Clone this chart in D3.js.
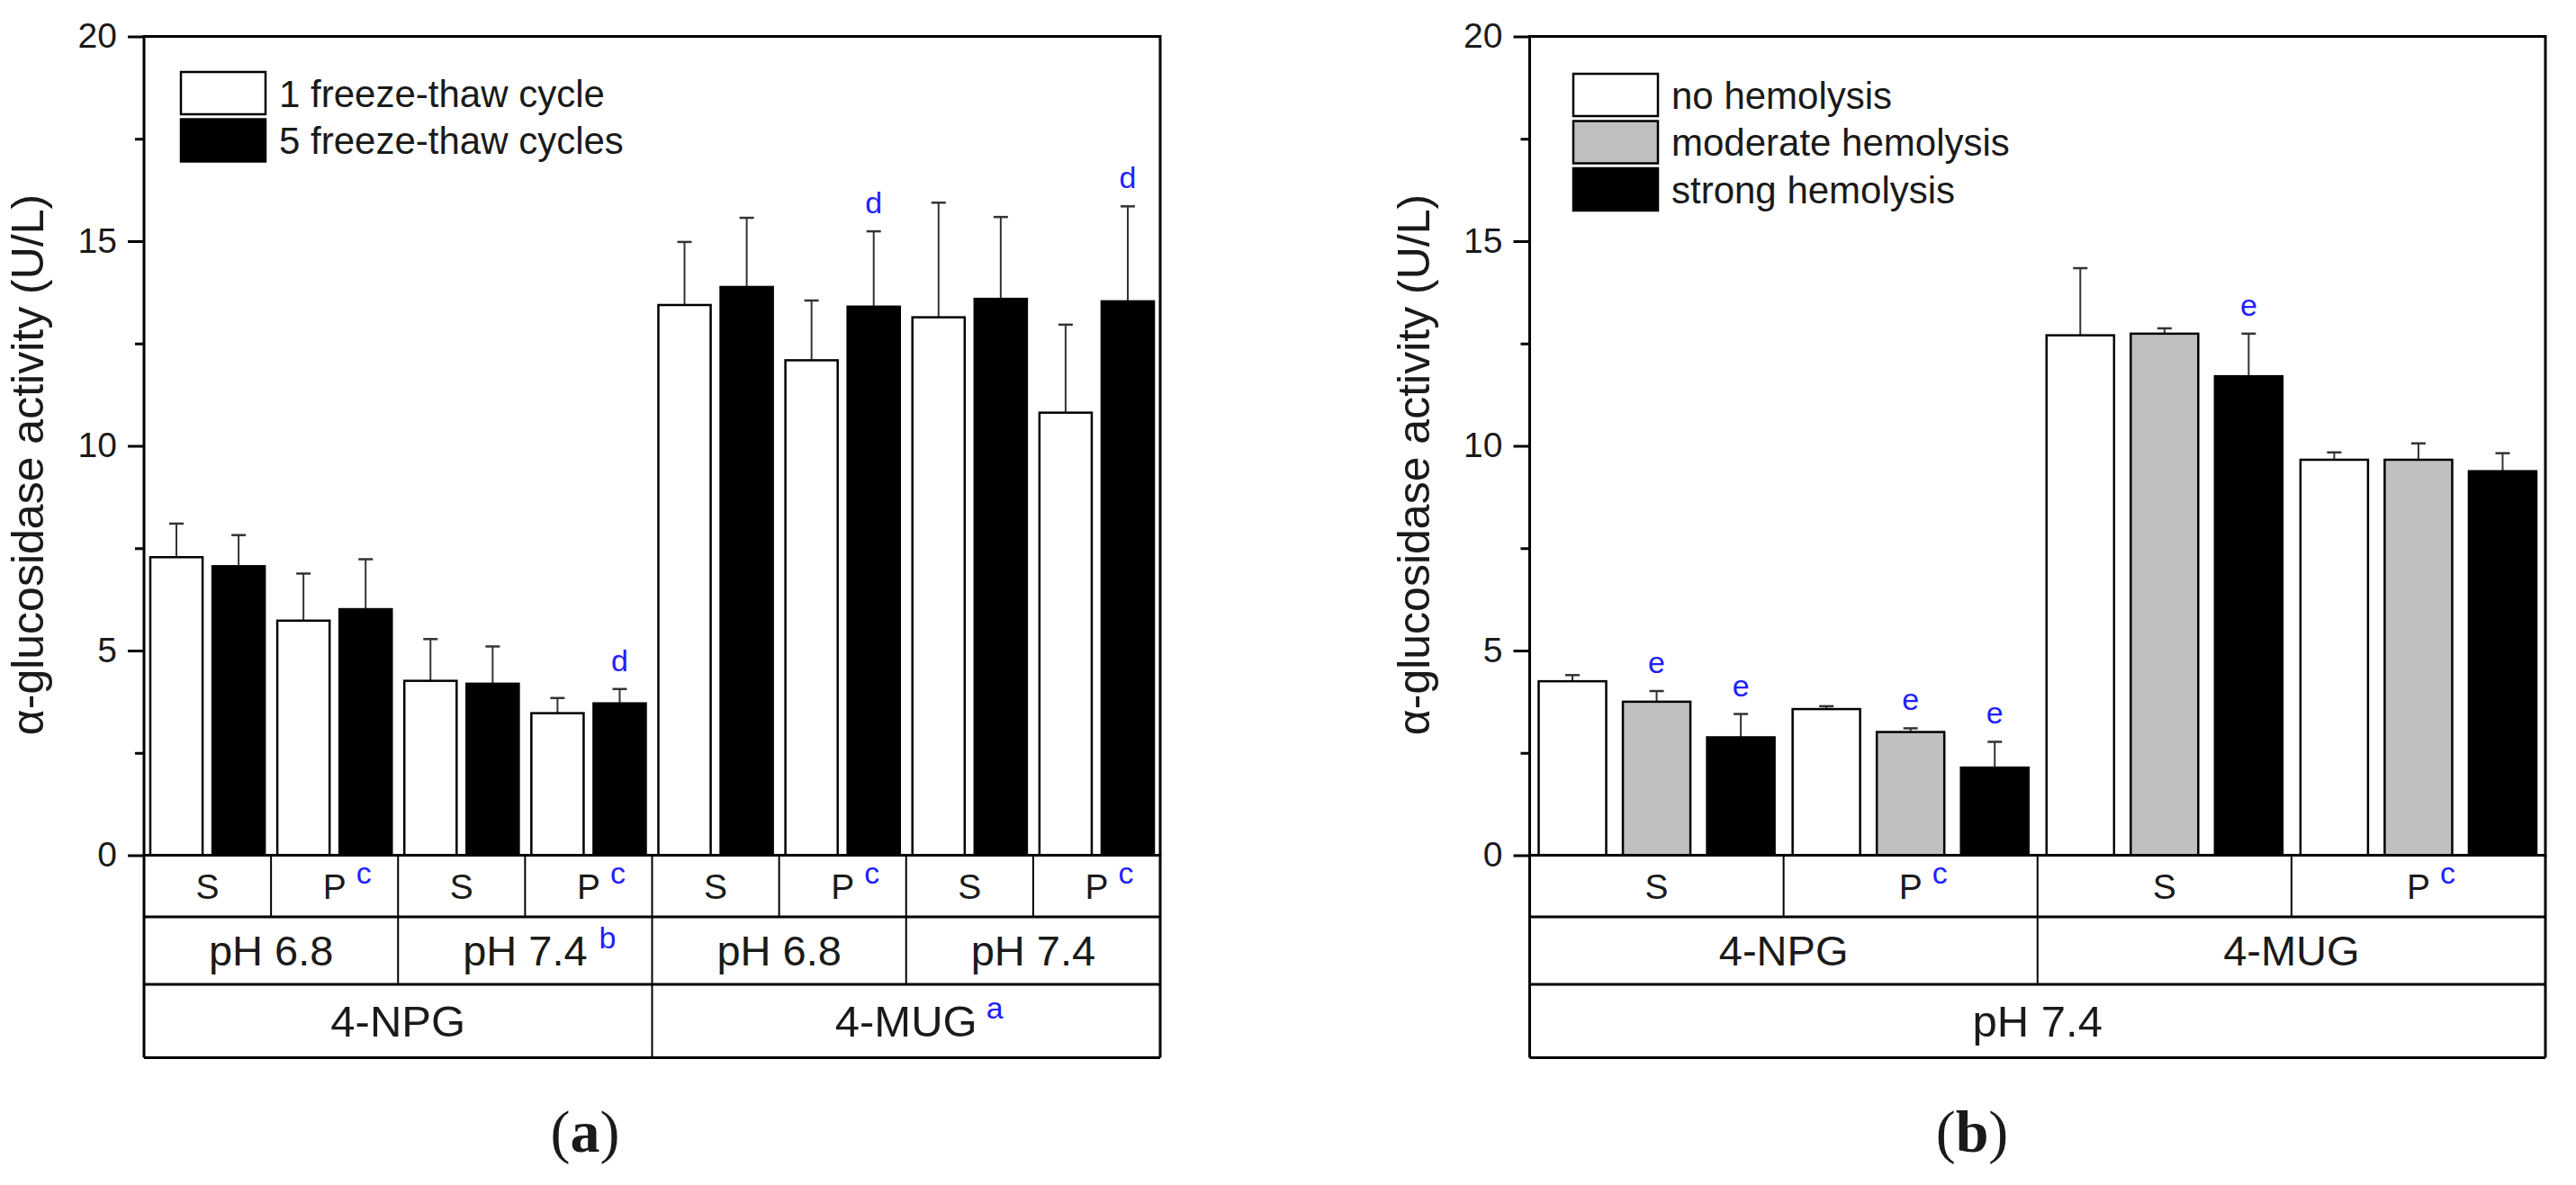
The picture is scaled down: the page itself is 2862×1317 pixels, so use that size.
<!DOCTYPE html>
<html>
<head>
<meta charset="utf-8">
<script src="https://cdn.jsdelivr.net/npm/d3@7"></script>
<style>
body { margin: 0; background: #fff; }
svg { display: block; }
text { font-family: "Liberation Sans", Arial, sans-serif; fill: #1a1a1a; }
</style>
</head>
<body>
<svg id="chart" width="2862" height="1317"></svg>
<script>
// ---- panel (a): freeze-thaw ----
const sub_a = ["S", "P", "S", "P", "S", "P", "S", "P"]
const sub_sup_a = ["", "c", "", "c", "", "c", "", "c"]
const ph_a = ["pH 6.8", "pH 7.4", "pH 6.8", "pH 7.4"]
const ph_sup_a = ["", "b", "", ""]
const substrate_a = ["4-NPG", "4-MUG"]
const substrate_sup_a = ["", "a"]
const series_a = ["1 freeze-thaw cycle", "5 freeze-thaw cycles"]
const one_cycle = [7.28, 5.73, 4.26, 3.47, 13.44, 12.09, 13.14, 10.81]
const one_cycle_sd = [0.82, 1.15, 1.02, 0.37, 1.54, 1.46, 2.80, 2.15]
const one_cycle_letters = ["", "", "", "", "", "", "", ""]
const five_cycles = [7.06, 6.01, 4.19, 3.71, 13.88, 13.40, 13.59, 13.53]
const five_cycles_sd = [0.76, 1.22, 0.91, 0.35, 1.69, 1.84, 2.00, 2.32]
const five_cycles_letters = ["", "", "", "d", "", "d", "", "d"]

// ---- panel (b): hemolysis ----
const sub_b = ["S", "P", "S", "P"]
const sub_sup_b = ["", "c", "", "c"]
const substrate_b = ["4-NPG", "4-MUG"]
const substrate_sup_b = ["", ""]
const ph_b = ["pH 7.4"]
const ph_sup_b = [""]
const series_b = ["no hemolysis", "moderate hemolysis", "strong hemolysis"]
const no_hemo = [4.25, 3.57, 12.70, 9.66]
const no_hemo_sd = [0.15, 0.07, 1.64, 0.18]
const no_hemo_letters = ["", "", "", ""]
const mod_hemo = [3.75, 3.01, 12.74, 9.66]
const mod_hemo_sd = [0.26, 0.09, 0.13, 0.40]
const mod_hemo_letters = ["e", "e", "", ""]
const strong_hemo = [2.88, 2.14, 11.70, 9.38]
const strong_hemo_sd = [0.57, 0.63, 1.04, 0.44]
const strong_hemo_letters = ["e", "e", "e", ""]

const y_ticks = [0, 5, 10, 15, 20]
const y_minor = [2.5, 7.5, 12.5, 17.5]
const y_title = "α-glucosidase activity (U/L)"

const y_top = 40.5
const y_zero = 950.5
const row_bottoms = [1019, 1094, 1175.5]
const blue = "#1f1fff"

const svg = d3.select("#chart")

function add_sup(g, base, txt, size, raise, gap) {
    if (!txt) return
    const node = base.node()
    const len = node.getComputedTextLength()
    const cx = +base.attr("x")
    g.append("text")
        .attr("x", cx + len / 2 + gap)
        .attr("y", +base.attr("y") - raise)
        .attr("font-size", size)
        .style("fill", blue)
        .text(txt)
}

function draw_panel(p) {
    const g = svg.append("g")
    const y = d3.scaleLinear().domain([0, 20]).range([y_zero, y_top])
    const cells = d3.scaleBand().domain(d3.range(p.levels[0].labels.length)).range([p.x0, p.x1])
    const inner = d3.scaleBand().domain(d3.range(p.series.length))
        .range([0, cells.bandwidth()]).paddingInner(p.pin).paddingOuter(p.pout)

    // bars
    p.series.forEach((s, si) => {
        const rows = p.values[si].map((v, i) => ({ v: v, sd: p.sds[si][i], letter: p.letters[si][i], cell: i }))
        const bx = d => cells(d.cell) + inner(si)
        const mid = d => bx(d) + inner.bandwidth() / 2

        g.selectAll(null).data(rows).enter().append("line")
            .attr("x1", mid).attr("x2", mid)
            .attr("y1", d => y(d.v)).attr("y2", d => y(d.v + d.sd))
            .attr("stroke", "#333").attr("stroke-width", 2)
        g.selectAll(null).data(rows).enter().append("line")
            .attr("x1", d => mid(d) - 8).attr("x2", d => mid(d) + 8)
            .attr("y1", d => y(d.v + d.sd)).attr("y2", d => y(d.v + d.sd))
            .attr("stroke", "#333").attr("stroke-width", 2.5)

        g.selectAll(null).data(rows).enter().append("rect")
            .attr("x", bx)
            .attr("y", d => y(d.v))
            .attr("width", inner.bandwidth())
            .attr("height", d => y(0) - y(d.v))
            .attr("fill", p.fills[si])
            .attr("stroke", "#000")
            .attr("stroke-width", 2.5)

        g.selectAll(null).data(rows.filter(d => d.letter)).enter().append("text")
            .attr("x", mid)
            .attr("y", d => y(d.v + d.sd) - 20)
            .attr("text-anchor", "middle")
            .attr("font-size", 34)
            .style("fill", blue)
            .text(d => d.letter)
    })

    // y axis
    const axis = g.append("g").attr("transform", `translate(${p.x0},0)`)
        .call(d3.axisLeft(y).tickValues(y_ticks).tickSize(18).tickPadding(12).tickFormat(d3.format("d")))
    axis.select(".domain").remove()
    axis.selectAll("line").attr("stroke", "#000").attr("stroke-width", 3)
    axis.selectAll("text").attr("font-size", 39).style("font-family", "Liberation Sans, Arial, sans-serif").style("fill", "#1a1a1a")
    const minor = g.append("g").attr("transform", `translate(${p.x0},0)`)
        .call(d3.axisLeft(y).tickValues(y_minor).tickSize(10).tickFormat(""))
    minor.select(".domain").remove()
    minor.selectAll("line").attr("stroke", "#000").attr("stroke-width", 3)

    // frame
    g.append("rect").attr("x", p.x0).attr("y", y_top)
        .attr("width", p.x1 - p.x0).attr("height", y_zero - y_top)
        .attr("fill", "none").attr("stroke", "#000").attr("stroke-width", 3)

    // category table
    let top = y_zero
    p.levels.forEach((lv, li) => {
        const bottom = row_bottoms[li]
        const band = d3.scaleBand().domain(d3.range(lv.labels.length)).range([p.x0, p.x1])
        g.append("line").attr("x1", p.x0).attr("x2", p.x1).attr("y1", bottom).attr("y2", bottom)
            .attr("stroke", "#000").attr("stroke-width", 3)
        g.selectAll(null).data(d3.range(1, lv.labels.length)).enter().append("line")
            .attr("x1", i => band(i)).attr("x2", i => band(i))
            .attr("y1", top).attr("y2", bottom)
            .attr("stroke", "#000").attr("stroke-width", 2)
        lv.labels.forEach((lab, i) => {
            const t = g.append("text")
                .attr("x", band(i) + band.bandwidth() / 2)
                .attr("y", (top + bottom) / 2 + lv.size * 0.36)
                .attr("text-anchor", "middle")
                .attr("font-size", lv.size)
                .text(lab)
            add_sup(g, t, lv.sups[i], 34, lv.size * 0.42, lv.gap)
        })
        top = bottom
    })
    g.selectAll(null).data([p.x0, p.x1]).enter().append("line")
        .attr("x1", d => d).attr("x2", d => d).attr("y1", y_zero).attr("y2", row_bottoms[2])
        .attr("stroke", "#000").attr("stroke-width", 3)

    // y title
    g.append("text")
        .attr("transform", `translate(${p.x0 - 112},${(y_top + y_zero) / 2 + 21}) rotate(-90)`)
        .attr("text-anchor", "middle")
        .attr("font-size", 50)
        .text(y_title)

    // legend
    p.series.forEach((s, si) => {
        const ly = p.legend_y + si * 52.5
        g.append("rect").attr("x", p.legend_x).attr("y", ly)
            .attr("width", 94).attr("height", 47)
            .attr("fill", p.fills[si]).attr("stroke", "#000").attr("stroke-width", 2.5)
        g.append("text").attr("x", p.legend_x + 109).attr("y", ly + 23.5 + 15)
            .attr("font-size", 42).text(s)
    })

    // panel letter
    const pl = g.append("text")
        .attr("x", p.label_x).attr("y", 1280)
        .attr("text-anchor", "middle")
        .attr("font-size", 66)
        .style("font-family", "Liberation Serif, Times New Roman, serif")
    pl.append("tspan").text("(")
    pl.append("tspan").attr("font-weight", "bold").text(p.label)
    pl.append("tspan").text(")")
}

draw_panel({
    x0: 160, x1: 1289, pin: 0.159, pout: 0.101,
    series: series_a,
    values: [one_cycle, five_cycles],
    sds: [one_cycle_sd, five_cycles_sd],
    letters: [one_cycle_letters, five_cycles_letters],
    fills: ["#fff", "#000"],
    levels: [
        { labels: sub_a, sups: sub_sup_a, size: 39, gap: 11 },
        { labels: ph_a, sups: ph_sup_a, size: 47, gap: 13 },
        { labels: substrate_a, sups: substrate_sup_a, size: 49, gap: 10 }
    ],
    legend_x: 201, legend_y: 80,
    label_x: 650, label: "a"
})

draw_panel({
    x0: 1699.5, x1: 2828, pin: 0.198, pout: 0.107,
    series: series_b,
    values: [no_hemo, mod_hemo, strong_hemo],
    sds: [no_hemo_sd, mod_hemo_sd, strong_hemo_sd],
    letters: [no_hemo_letters, mod_hemo_letters, strong_hemo_letters],
    fills: ["#fff", "#c0c0c0", "#000"],
    levels: [
        { labels: sub_b, sups: sub_sup_b, size: 39, gap: 11 },
        { labels: substrate_b, sups: substrate_sup_b, size: 47, gap: 10 },
        { labels: ph_b, sups: ph_sup_b, size: 49, gap: 10 }
    ],
    legend_x: 1748, legend_y: 82,
    label_x: 2191, label: "b"
})
</script>
</body>
</html>
